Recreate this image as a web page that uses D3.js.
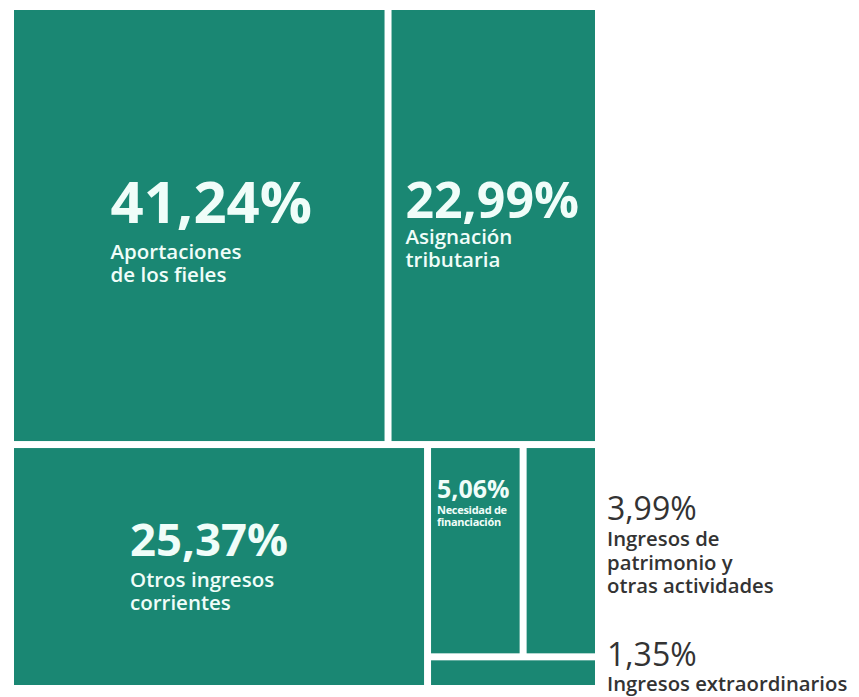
<!DOCTYPE html>
<html>
<head>
<meta charset="utf-8">
<script src="https://cdn.jsdelivr.net/npm/d3@7"></script>
<style>
  html, body { margin: 0; padding: 0; background: #ffffff; }
  svg { display: block; font-family: "Open Sans", "Noto Sans", sans-serif; }
</style>
</head>
<body>
<svg id="chart" width="859" height="697"></svg>
<script>
// ---- data ----
const categories = [
  "Aportaciones de los fieles",
  "Asignación tributaria",
  "Otros ingresos corrientes",
  "Necesidad de financiación",
  "Ingresos de patrimonio y otras actividades",
  "Ingresos extraordinarios"
];
const values = [41.24, 22.99, 25.37, 5.06, 3.99, 1.35];
const percentLabels = ["41,24%", "22,99%", "25,37%", "5,06%", "3,99%", "1,35%"];
const labelLines = [
  ["Aportaciones", "de los fieles"],
  ["Asignación", "tributaria"],
  ["Otros ingresos", "corrientes"],
  ["Necesidad de", "financiación"],
  ["Ingresos de", "patrimonio y", "otras actividades"],
  ["Ingresos extraordinarios"]
];
// grouping of the treemap (indices into categories)
const groupTop = [0, 1];
const groupBottomLeft = [2];
const groupPair = [3, 4];
const groupStrip = [5];

// ---- styles ----
const fillColor = "#1a8773";
const insideText = "#f0fdf9";
const outsideText = "#333333";
const insideStyle = {
  0: {pct: 58, lbl: 20.5, gap: 36, lh: 23, dx: 12, dy: 6},
  1: {pct: 50, lbl: 20.5, gap: 26, lh: 23, dx: -1, dy: -1},
  2: {pct: 45.5, lbl: 20.5, gap: 31, lh: 23, dx: -10, dy: 0}
};

const svg = d3.select("#chart");
const W = 581, H = 675, X0 = 14, Y0 = 10;

const leaf = i => ({name: categories[i], idx: i, value: values[i]});
const rootData = {name: "root", children: [
  {name: "top", children: groupTop.map(leaf)},
  {name: "bottom", children: [
    ...groupBottomLeft.map(leaf),
    {name: "small", children: [
      {name: "pair", children: groupPair.map(leaf)},
      ...groupStrip.map(leaf)
    ]}
  ]}
]};

const root = d3.hierarchy(rootData).sum(d => d.children ? 0 : d.value);
const tile = (node, x0, y0, x1, y1) =>
  (node.depth % 2 === 0 ? d3.treemapSlice : d3.treemapDice)(node, x0, y0, x1, y1);
d3.treemap().tile(tile).size([W, H]).paddingInner(7).round(false)(root);

const g = svg.append("g").attr("transform", `translate(${X0},${Y0})`);
const leaves = root.leaves();

g.selectAll("rect").data(leaves).join("rect")
  .attr("x", d => d.x0).attr("y", d => d.y0)
  .attr("width", d => d.x1 - d.x0).attr("height", d => d.y1 - d.y0)
  .attr("fill", fillColor);

const byIdx = {};
leaves.forEach(d => byIdx[d.data.idx] = d);

// one text element per label block: percent + description lines
function block(i, left, base, color, pctSize, pctWeight, lblSize, lblWeight, gap, lh, extra) {
  const t = g.append("text").attr("fill", color);
  const p = t.append("tspan").attr("x", left).attr("y", base)
    .attr("font-size", pctSize).attr("font-weight", pctWeight).text(percentLabels[i]);
  labelLines[i].forEach((ln, k) => {
    const s = t.append("tspan").attr("x", left).attr("y", base + gap + k * lh)
      .attr("font-size", lblSize).attr("font-weight", lblWeight).text(ln);
    if (extra) s.attr("letter-spacing", extra);
  });
  return {t, p};
}

// big inside labels
[0, 1, 2].forEach(i => {
  const d = byIdx[i], s = insideStyle[i];
  const {p} = block(i, 0, 0, insideText, s.pct, 700, s.lbl, 600, s.gap, s.lh);
  const pw = p.node().getComputedTextLength();
  const cx = (d.x0 + d.x1) / 2 + s.dx, cy = (d.y0 + d.y1) / 2 + s.dy;
  const blockH = s.pct * 0.72 + s.gap + s.lh * (labelLines[i].length - 1);
  const left = cx - pw / 2;
  const base = cy - blockH / 2 + s.pct * 0.72;
  // reposition
  const t = d3.select(p.node().parentNode);
  t.selectAll("tspan").each(function(_, k) {
    const sel = d3.select(this);
    sel.attr("x", left).attr("y", k === 0 ? base : base + s.gap + (k - 1) * s.lh);
  });
});

// small inside label (5,06%)
{
  const d = byIdx[3];
  block(3, d.x0 + 6, d.y0 + 50, insideText, 25, 700, 11, 700, 16, 12, -0.3);
}

// outside labels
const rightEdge = root.x1 + 12;
{
  const d = byIdx[4];
  block(4, rightEdge, d.y0 + 72, outsideText, 32, 500, 20.3, 600, 26, 23.5);
}
{
  const d = byIdx[5];
  block(5, rightEdge, d.y1 - 19, outsideText, 32, 500, 20.3, 600, 25, 23.5);
}
</script>
</body>
</html>
